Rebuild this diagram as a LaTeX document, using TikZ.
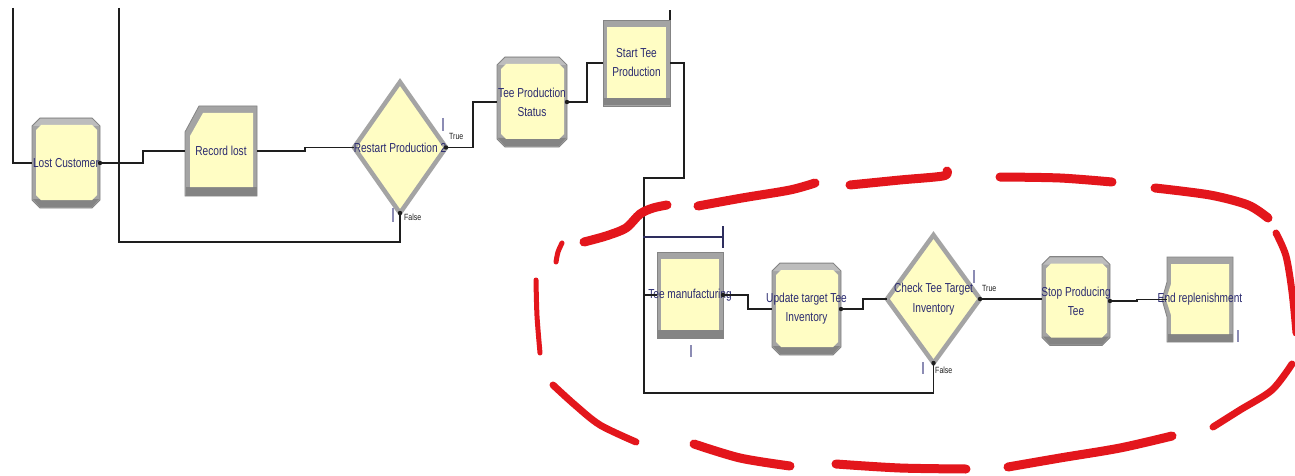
\documentclass[tikz,border=0pt]{standalone}
\usepackage{fontspec}
\setmainfont{Liberation Sans}
\newfontfamily\modfont{Liberation Sans}[FakeStretch=0.78]
\usetikzlibrary{calc,shapes.geometric}

\pgfdeclarelayer{paper}
\pgfdeclarelayer{shapes}
\pgfsetlayers{paper,shapes,main}

\definecolor{modfill}{HTML}{FFFDC4}
\definecolor{bevlight}{HTML}{BDBDBD}
\definecolor{bevmid}{HTML}{A4A4A4}
\definecolor{bevdark}{HTML}{848484}
\definecolor{modtext}{HTML}{2B2B70}
\definecolor{anim}{HTML}{8C8CB4}
\definecolor{conn}{HTML}{1E1E1E}
\definecolor{wire}{HTML}{2E2E5E}
\definecolor{mark}{HTML}{E3161C}

% zero-width text so a label never widens its module
\newcommand\zt[1]{\makebox[0pt][c]{#1}}

\tikzset{
  module/.style={shape=rectangle, inner sep=0pt, outer sep=0pt,
    font=\modfont\fontsize{13}{19}\selectfont, text=modtext, align=center},
  decide/.style={shape=diamond, inner sep=0pt, outer sep=0pt,
    fill=modfill, draw=bevmid, line width=4.5pt,
    font=\modfont\fontsize{13}{20}\selectfont, text=modtext, align=center},
  conn/.style={draw=conn, line width=1.2pt},
  wire/.style={draw=wire, line width=1.2pt},
  outdot/.style={fill=conn},
  animbar/.style={draw=anim, line width=2pt},
  lbl/.style={font=\modfont\fontsize{9}{9}\selectfont, text=conn, inner sep=0pt, anchor=west},
  redmark/.style={draw=mark, line width=9pt, line cap=round, line join=round},
  shell/.style={fill=bevmid, draw=bevdark, line width=0.8pt},
  band/.style={fill=bevdark},
  topband/.style={fill=bevlight},
  face/.style={fill=modfill}
}

% Assign module: octagon with bevelled frame
\newcommand\assignshape[1]{%
  \begin{pgfonlayer}{shapes}
  \path (#1.north west) coordinate (sa) (#1.south east) coordinate (sb);
  \path[shell] let \p1=(sa),\p2=(sb) in
    (\x1+8pt,\y1)--(\x2-8pt,\y1)--(\x2,\y1-8pt)--(\x2,\y2+8pt)--(\x2-8pt,\y2)
    --(\x1+8pt,\y2)--(\x1,\y2+8pt)--(\x1,\y1-8pt)--cycle;
  \path[topband] let \p1=(sa),\p2=(sb) in
    (\x1+1pt,\y1-8pt)--(\x1+8pt,\y1-1pt)--(\x2-8pt,\y1-1pt)--(\x2-1pt,\y1-8pt)--cycle;
  \path[band] let \p1=(sa),\p2=(sb) in
    (\x1+1pt,\y2+9pt)--(\x2-1pt,\y2+9pt)--(\x2-8pt,\y2+1pt)--(\x1+8pt,\y2+1pt)--cycle;
  \path[face] let \p1=(sa),\p2=(sb) in
    (\x1+9pt,\y1-7pt)--(\x2-8pt,\y1-7pt)--(\x2-3pt,\y1-12pt)--(\x2-3pt,\y2+13pt)
    --(\x2-8pt,\y2+8pt)--(\x1+9pt,\y2+8pt)--(\x1+4pt,\y2+13pt)--(\x1+4pt,\y1-12pt)--cycle;
  \end{pgfonlayer}}

% Process module: plain bevelled box
\newcommand\processshape[1]{%
  \begin{pgfonlayer}{shapes}
  \path (#1.north west) coordinate (sa) (#1.south east) coordinate (sb);
  \path[shell] (sa) rectangle (sb);
  \path[band] let \p1=(sa),\p2=(sb) in (\x1+0.5pt,\y2+0.5pt) rectangle (\x2-0.5pt,\y2+8pt);
  \path[face] let \p1=(sa),\p2=(sb) in (\x1+4pt,\y1-7pt) rectangle (\x2-4pt,\y2+8pt);
  \end{pgfonlayer}}

% Record module: box with a cut top-left corner
\newcommand\recordshape[1]{%
  \begin{pgfonlayer}{shapes}
  \path (#1.north west) coordinate (sa) (#1.south east) coordinate (sb);
  \path[shell] let \p1=(sa),\p2=(sb) in
    (\x1+14pt,\y1)--(\x2,\y1)--(\x2,\y2)--(\x1,\y2)--(\x1,\y1-26pt)--cycle;
  \path[band] let \p1=(sa),\p2=(sb) in (\x1+0.5pt,\y2+0.5pt) rectangle (\x2-0.5pt,\y2+9pt);
  \path[face] let \p1=(sa),\p2=(sb) in
    (\x1+18pt,\y1-7pt)--(\x2-4pt,\y1-7pt)--(\x2-4pt,\y2+9pt)--(\x1+5pt,\y2+9pt)--(\x1+5pt,\y1-30pt)--cycle;
  \end{pgfonlayer}}

% Dispose module: box with a pointed left side
\newcommand\disposeshape[1]{%
  \begin{pgfonlayer}{shapes}
  \path (#1.north west) coordinate (sa) (#1.south east) coordinate (sb) (#1.west) coordinate (sc);
  \path[shell] let \p1=(sa),\p2=(sb),\p3=(sc) in
    (\x1,\y1)--(\x2,\y1)--(\x2,\y2)--(\x1,\y2)--(\x1,\y2+25pt)--(\x3-5pt,\y3)--(\x1,\y1-25pt)--cycle;
  \path[band] let \p1=(sa),\p2=(sb) in (\x1+0.5pt,\y2+0.5pt) rectangle (\x2-0.5pt,\y2+8pt);
  \path[face] let \p1=(sa),\p2=(sb),\p3=(sc) in
    (\x1+4pt,\y1-7pt)--(\x2-4pt,\y1-7pt)--(\x2-4pt,\y2+8pt)--(\x1+4pt,\y2+8pt)
    --(\x1+4pt,\y2+27pt)--(\x3-1pt,\y3)--(\x1+4pt,\y1-27pt)--cycle;
  \end{pgfonlayer}}

\begin{document}
\begin{tikzpicture}[x=1pt,y=-1pt]
\begin{pgfonlayer}{paper}
\fill[white] (0,0) rectangle (1295,476);
\end{pgfonlayer}
\useasboundingbox (0,0) rectangle (1295,476);

% ---- modules ----
\node[module, minimum width=68, minimum height=90] (lost) at (66,163) {\zt{Lost Customer}};
\node[module, minimum width=72, minimum height=90] (rec) at (221,151) {\zt{Record lost}};
\node[decide, minimum width=92, minimum height=131] (dec1) at (400,147.5) {\zt{Restart Production 2}};
\node[module, minimum width=70, minimum height=90] (tps) at (532,102) {\zt{Tee Production}\\\zt{Status}};
\node[module, minimum width=67, minimum height=86] (stp) at (636.5,63) {\zt{Start Tee}\\\zt{Production}};
\node[module, minimum width=66, minimum height=86] (tman) at (690,295) {\zt{Tee manufacturing}};
\node[module, minimum width=69, minimum height=92] (upd) at (806.5,309) {\zt{Update target Tee}\\\zt{Inventory}};
\node[decide, minimum width=93, minimum height=128] (dec2) at (933.5,299) {\zt{Check Tee Target}\\\zt{Inventory}};
\node[module, minimum width=68, minimum height=89] (stop) at (1076,301) {\zt{Stop Producing}\\\zt{Tee}};
\node[module, minimum width=66, minimum height=85] (end) at (1200,299.5) {\zt{End replenishment}};

\assignshape{lost}
\recordshape{rec}
\assignshape{tps}
\processshape{stp}
\processshape{tman}
\assignshape{upd}
\assignshape{stop}
\disposeshape{end}

% ---- loose ends and junctions ----
\coordinate (inA) at (13,8);
\coordinate (inB) at (119,8);
\coordinate (j1) at (644,178);
\coordinate (j2) at (644,393);
\coordinate (stubL) at (643,237);
\coordinate (stubR) at (723,237);

% ---- connectors ----
\draw[conn] (inA) |- (lost.west);
\draw[conn] (inB) |- ($(dec1.south)+(0,29)$) -- (dec1.south);
\draw[conn] (lost.east) -- ++(43,0) |- (rec.west);
\draw[conn] (rec.east) -- ++(48,0) |- (dec1.west);
\draw[conn] (dec1.east) -- ++(27,0) |- (tps.west);
\draw[conn] (tps.east) -- ++(20,0) |- (stp.west);
\draw[conn] (stp.north east) -- ++(0,-10);
\draw[conn] (stp.east) -| ++(14,115) -- (j1) |- (tman.west);
\draw[conn] (dec2.south) |- (j2) -- (j1);
\draw[conn] (tman.east) -- ++(25,0) |- (upd.west);
\draw[conn] (upd.east) -- ++(22,0) |- (dec2.west);
\draw[conn] (dec2.east) -- (dec2.east -| stop.west);
\draw[conn] (stop.east) -- ++(27,0) |- (end.west);
\draw[wire] (stubL) -- (stubR);
\draw[wire] ($(stubR)+(0,-11)$) -- ($(stubR)+(0,11)$);

% ---- output points ----
\foreach \p in {lost.east, dec1.east, dec1.south, tps.east, tman.east, upd.east, dec2.east, dec2.south, stop.east}
  \fill[outdot] (\p) circle (2.2pt);

% ---- animation markers ----
\draw[animbar] (443,118) -- (443,131);
\draw[animbar] (393,208) -- (393,222);
\draw[animbar] (974,270) -- (974,283);
\draw[animbar] (923,362) -- (923,374);
\draw[animbar] (691,345) -- (691,357);
\draw[animbar] (1238,330) -- (1238,342);

% ---- branch labels ----
\node[lbl] (t1) at (449,136) {True};
\node[lbl] (f1) at (404,217) {False};
\node[lbl] (t2) at (982,288) {True};
\node[lbl] (f2) at (935,370) {False};

% ---- hand-drawn red dashed outline ----
\draw[redmark] plot[smooth] coordinates {(584,242) (606,236) (626,228) (640,214) (653,208) (667,205)};
\draw[redmark] plot[smooth] coordinates {(698,206) (742,198) (790,190) (815,183)};
\draw[redmark] plot[smooth] coordinates {(850,185) (900,180) (943,176) (947,171)};
\draw[redmark] plot[smooth] coordinates {(1000,177) (1060,178) (1112,182)};
\draw[redmark] plot[smooth] coordinates {(1155,188) (1210,195) (1248,205) (1268,218)};
\draw[redmark, line width=7pt] plot[smooth] coordinates {(1276,233) (1286,256) (1292,292) (1296,333)};
\draw[redmark, line width=7pt] plot[smooth] coordinates {(1292,364) (1272,390) (1240,410) (1213,427)};
\draw[redmark] plot[smooth] coordinates {(1172,436) (1120,448) (1060,458) (1008,467)};
\draw[redmark] plot[smooth] coordinates {(966,469) (900,468) (836,464)};
\draw[redmark] plot[smooth] coordinates {(790,466) (740,458) (694,444)};
\draw[redmark, line width=7pt] plot[smooth] coordinates {(636,442) (600,425) (575,405) (553,385)};
\draw[redmark, line width=5pt] plot[smooth] coordinates {(540,353) (537,316) (536,280)};
\draw[redmark, line width=5pt] plot[smooth] coordinates {(556,262) (558,252) (562,243)};
\end{tikzpicture}
\end{document}
